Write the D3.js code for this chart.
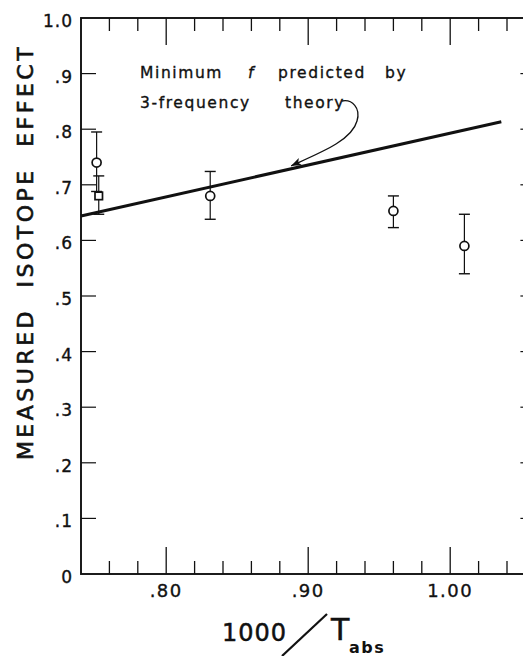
<!DOCTYPE html>
<html>
<head>
<meta charset="utf-8">
<script src="https://cdn.jsdelivr.net/npm/d3@7"></script>
<style>
  html, body { margin: 0; padding: 0; background: #fff; }
  svg { display: block; }
  text { font-family: "DejaVu Sans", sans-serif; fill: #111; stroke: #111; stroke-width: 0.35; }
</style>
</head>
<body>
<svg id="chart" width="523" height="656"></svg>
<script>
// Measured isotope effect versus 1000/T
const circleX   = [0.751, 0.831, 0.960, 1.010];
const circleY   = [0.740, 0.680, 0.653, 0.590];
const circleHi  = [0.795, 0.724, 0.680, 0.647];
const circleLo  = [0.688, 0.638, 0.623, 0.540];

const squareX   = [0.7525];
const squareY   = [0.680];
const squareHi  = [0.716];
const squareLo  = [0.647];

// Minimum f predicted by the 3-frequency theory
const theoryX   = [0.740, 1.036];
const theoryY   = [0.644, 0.8135];

const yTicks      = [0, 0.1, 0.2, 0.3, 0.4, 0.5, 0.6, 0.7, 0.8, 0.9, 1.0];
const yTickLabels = ["0", ".1", ".2", ".3", ".4", ".5", ".6", ".7", ".8", ".9", "1.0"];
const xMajor      = [0.80, 0.90, 1.00];
const xTickLabels = [".80", ".90", "1.00"];
const xMinor      = [0.76, 0.78, 0.82, 0.84, 0.86, 0.88, 0.92, 0.94, 0.96, 0.98, 1.02, 1.04];

(function draw() {
  const svg = d3.select("#chart");
  const pLeft = 81, pRight = 535.4, pTop = 18, pBottom = 574;

  const x = d3.scaleLinear().domain([0.74, 1.06]).range([pLeft, pRight]);
  const y = d3.scaleLinear().domain([0, 1.0]).range([pBottom, pTop]);

  const ink = "#111";
  const g = svg.append("g");

  // frame
  g.append("rect")
    .attr("x", pLeft).attr("y", pTop)
    .attr("width", pRight - pLeft).attr("height", pBottom - pTop)
    .attr("fill", "none").attr("stroke", ink).attr("stroke-width", 1.9);

  // bottom and top ticks (pointing inward)
  const majLen = 27, minLen = 13;
  const xt = xMajor.map(v => ({v, len: majLen})).concat(xMinor.map(v => ({v, len: minLen})));
  g.selectAll("line.xb").data(xt).join("line").attr("class", "xb")
    .attr("x1", d => x(d.v)).attr("x2", d => x(d.v))
    .attr("y1", pBottom).attr("y2", d => pBottom - d.len)
    .attr("stroke", ink).attr("stroke-width", 1.3);
  g.selectAll("line.xt").data(xt).join("line").attr("class", "xt")
    .attr("x1", d => x(d.v)).attr("x2", d => x(d.v))
    .attr("y1", pTop).attr("y2", d => pTop + d.len)
    .attr("stroke", ink).attr("stroke-width", 1.3);

  // left and right ticks
  const yLen = 15;
  g.selectAll("line.yl").data(yTicks.slice(1, -1)).join("line").attr("class", "yl")
    .attr("x1", pLeft).attr("x2", pLeft + yLen)
    .attr("y1", d => y(d)).attr("y2", d => y(d))
    .attr("stroke", ink).attr("stroke-width", 1.2);
  g.selectAll("line.yr").data(yTicks.slice(1, -1)).join("line").attr("class", "yr")
    .attr("x1", pRight).attr("x2", pRight - yLen)
    .attr("y1", d => y(d)).attr("y2", d => y(d))
    .attr("stroke", ink).attr("stroke-width", 1.2);

  // y tick labels
  g.selectAll("text.ylab").data(yTicks).join("text").attr("class", "ylab")
    .attr("x", 73).attr("y", d => y(d) + 9)
    .attr("text-anchor", "end")
    .attr("font-size", 17).attr("letter-spacing", 1)
    .text((d, i) => yTickLabels[i]);

  // x tick labels
  g.selectAll("text.xlab").data(xMajor).join("text").attr("class", "xlab")
    .attr("x", d => x(d)).attr("y", 597)
    .attr("text-anchor", "middle")
    .attr("font-size", 18).attr("letter-spacing", 1.5)
    .text((d, i) => xTickLabels[i]);

  // y axis title
  svg.append("text")
    .attr("transform", "translate(33,252) rotate(-90)")
    .attr("text-anchor", "middle")
    .attr("font-size", 22).attr("letter-spacing", 3.5).attr("word-spacing", 10)
    .style("stroke-width", 0.6)
    .text("MEASURED ISOTOPE EFFECT");

  // x axis title: 1000 / T_abs
  const xTitle = svg.append("g");
  xTitle.append("text").attr("x", 222).attr("y", 641)
    .attr("font-size", 24).attr("letter-spacing", 1).style("stroke-width", 0.5).text("1000");
  xTitle.append("line").attr("x1", 282).attr("y1", 656).attr("x2", 327).attr("y2", 614)
    .attr("stroke", ink).attr("stroke-width", 2.2);
  xTitle.append("text").attr("x", 331).attr("y", 640)
    .attr("font-size", 30).style("stroke-width", 0.5).text("T");
  xTitle.append("text").attr("x", 349).attr("y", 653)
    .attr("font-size", 16).attr("font-weight", "bold").attr("letter-spacing", 1.5)
    .style("stroke-width", 0).text("abs");

  // theory line
  const line = d3.line().x(d => x(d[0])).y(d => y(d[1]));
  g.append("path")
    .datum(d3.zip(theoryX, theoryY))
    .attr("d", line)
    .attr("fill", "none").attr("stroke", ink).attr("stroke-width", 3);

  // error bars
  const capW = 5.5;
  function errorBars(xs, lo, hi, cls) {
    const d = xs.map((v, i) => ({x: v, lo: lo[i], hi: hi[i]}));
    g.selectAll("line." + cls + "v").data(d).join("line").attr("class", cls + "v")
      .attr("x1", e => x(e.x)).attr("x2", e => x(e.x))
      .attr("y1", e => y(e.lo)).attr("y2", e => y(e.hi))
      .attr("stroke", ink).attr("stroke-width", 1.2);
    ["lo", "hi"].forEach(k => {
      g.selectAll("line." + cls + k).data(d).join("line").attr("class", cls + k)
        .attr("x1", e => x(e.x) - capW).attr("x2", e => x(e.x) + capW)
        .attr("y1", e => y(e[k])).attr("y2", e => y(e[k]))
        .attr("stroke", ink).attr("stroke-width", 1.4);
    });
  }
  errorBars(circleX, circleLo, circleHi, "c");
  errorBars(squareX, squareLo, squareHi, "s");

  // data markers
  g.selectAll("circle.pt").data(circleX).join("circle").attr("class", "pt")
    .attr("cx", d => x(d)).attr("cy", (d, i) => y(circleY[i]))
    .attr("r", 4.5).attr("fill", "#fff").attr("stroke", ink).attr("stroke-width", 1.7);
  g.selectAll("rect.pt").data(squareX).join("rect").attr("class", "pt")
    .attr("x", d => x(d) - 3.75).attr("y", (d, i) => y(squareY[i]) - 3.75)
    .attr("width", 7.5).attr("height", 7.5)
    .attr("fill", "#fff").attr("stroke", ink).attr("stroke-width", 1.7);

  // annotation
  const ann = svg.append("g").attr("font-size", 15.5).attr("letter-spacing", 1.6);
  const words1 = [["Minimum", 140], ["f", 248], ["predicted", 278], ["by", 385]];
  const words2 = [["3-frequency", 140], ["theory", 285]];
  words1.forEach(([w, px]) => {
    ann.append("text").attr("x", px).attr("y", 78)
      .attr("font-style", w === "f" ? "italic" : "normal").text(w);
  });
  words2.forEach(([w, px]) => {
    ann.append("text").attr("x", px).attr("y", 108).text(w);
  });

  // curved arrow from the label to the theory line
  const tx = 0.888;
  const tipX = x(tx);
  const tipY = y(theoryY[0] + (tx - theoryX[0]) * (theoryY[1] - theoryY[0]) / (theoryX[1] - theoryX[0])) - 3;
  const p = d3.path();
  p.moveTo(342, 101);
  p.bezierCurveTo(352, 99, 361, 108, 357, 121);
  p.bezierCurveTo(352, 140, 322, 152, tipX, tipY);
  svg.append("path").attr("d", p.toString())
    .attr("fill", "none").attr("stroke", ink).attr("stroke-width", 1.3);
  const ang = Math.atan2(tipY - 152, tipX - 322);
  const ah = 11, aw = 0.38;
  svg.append("path")
    .attr("d", `M${tipX},${tipY} L${tipX - ah * Math.cos(ang - aw)},${tipY - ah * Math.sin(ang - aw)} L${tipX - ah * 0.7 * Math.cos(ang)},${tipY - ah * 0.7 * Math.sin(ang)} L${tipX - ah * Math.cos(ang + aw)},${tipY - ah * Math.sin(ang + aw)} Z`)
    .attr("fill", ink);
})();
</script>
</body>
</html>
